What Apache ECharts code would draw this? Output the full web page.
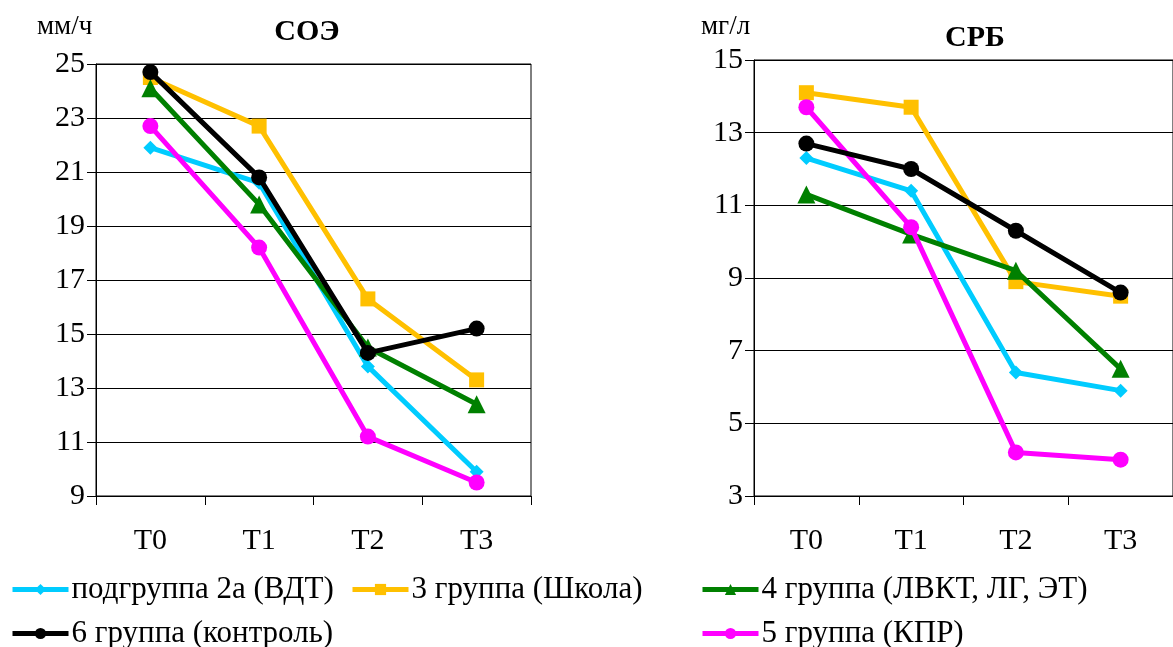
<!DOCTYPE html>
<html>
<head>
<meta charset="utf-8">
<script src="https://cdn.jsdelivr.net/npm/echarts@6/dist/echarts.min.js"></script>
<style>
html,body{margin:0;padding:0;background:#fff;}
#chart{width:1173px;height:647px;}
</style>
</head>
<body>
<div id="chart"></div>
<script>
const categories = ['Т0', 'Т1', 'Т2', 'Т3'];
const seriesNames = ['подгруппа 2а (ВДТ)', '3 группа (Школа)', '4 группа (ЛВКТ, ЛГ, ЭТ)', '5 группа (КПР)', '6 группа (контроль)'];
// СОЭ, мм/ч
const esrSub2a = [21.9, 20.6, 13.8, 9.9];
const esrGroup3 = [24.5, 22.7, 16.3, 13.3];
const esrGroup4 = [24.1, 19.8, 14.5, 12.4];
const esrGroup5 = [22.7, 18.2, 11.2, 9.5];
const esrGroup6 = [24.7, 20.8, 14.3, 15.2];
// СРБ, мг/л
const crpSub2a = [12.3, 11.4, 6.4, 5.9];
const crpGroup3 = [14.1, 13.7, 8.9, 8.5];
const crpGroup4 = [11.3, 10.2, 9.2, 6.5];
const crpGroup5 = [13.7, 10.4, 4.2, 4.0];
const crpGroup6 = [12.7, 12.0, 10.3, 8.6];
const esrTicks = {min: 9, max: 25, interval: 2};
const crpTicks = {min: 3, max: 15, interval: 2};

const colors = ['#00CCFF', '#FFC000', '#008000', '#FF00FF', '#000000'];
const symbols = ['diamond', 'rect', 'triangle', 'circle', 'circle'];
const symbolSizes = [14, 15, 18, 16, 16];
const FONT = 'Liberation Serif';

const esrData = [esrSub2a, esrGroup3, esrGroup4, esrGroup5, esrGroup6];
const crpData = [crpSub2a, crpGroup3, crpGroup4, crpGroup5, crpGroup6];

function mkSeries(dataArr, idx) {
  return dataArr.map((d, i) => ({
    name: seriesNames[i],
    type: 'line',
    xAxisIndex: idx,
    yAxisIndex: idx,
    data: d,
    symbol: symbols[i],
    symbolSize: symbolSizes[i],
    showAllSymbol: true,
    lineStyle: {width: 5, color: colors[i]},
    itemStyle: {color: colors[i]},
    z: 2 + i,
    animation: false
  }));
}

function xAx(idx) {
  return {
    type: 'category', gridIndex: idx, data: categories, boundaryGap: true,
    axisLine: {lineStyle: {color: '#000', width: 1}},
    axisTick: {show: true, length: 9, lineStyle: {color: '#000'}},
    axisLabel: {fontFamily: FONT, fontSize: 30, color: '#000', margin: 30},
    splitLine: {show: false}
  };
}
function yAx(idx, t) {
  return {
    type: 'value', gridIndex: idx, min: t.min, max: t.max, interval: t.interval,
    axisLine: {show: true, lineStyle: {color: '#000', width: 1}},
    axisTick: {show: true, length: 9, lineStyle: {color: '#000'}},
    axisLabel: {fontFamily: FONT, fontSize: 30, color: '#000', margin: 11},
    splitLine: {show: true, lineStyle: {color: '#000', width: 1}}
  };
}

function legendItem(name, left, top) {
  return {
    data: [name], left: left, top: top, orient: 'horizontal',
    itemWidth: 56, itemHeight: 14, itemGap: 0,
    lineStyle: {width: 5},
    textStyle: {fontFamily: FONT, fontSize: 31, color: '#000', padding: [0, 0, 0, -2]},
    padding: 0, selectedMode: false
  };
}

const chart = echarts.init(document.getElementById('chart'), null, {renderer: 'canvas'});
chart.setOption({
  backgroundColor: '#fff',
  animation: false,
  textStyle: {fontFamily: FONT},
  title: [
    {text: 'СОЭ', left: 302, top: 12, textAlign: 'center', textStyle: {fontFamily: FONT, fontSize: 30, fontWeight: 'bold', color: '#000'}},
    {text: 'СРБ', left: 970, top: 18, textAlign: 'center', textStyle: {fontFamily: FONT, fontSize: 30, fontWeight: 'bold', color: '#000'}},
    {text: 'мм/ч', left: 32, top: 8, textStyle: {fontFamily: FONT, fontSize: 27, fontWeight: 'normal', color: '#000'}},
    {text: 'мг/л', left: 696, top: 8, textStyle: {fontFamily: FONT, fontSize: 27, fontWeight: 'normal', color: '#000'}}
  ],
  grid: [
    {left: 96, right: 642, top: 64, bottom: 151, show: true, borderColor: '#000', borderWidth: 1, containLabel: false},
    {left: 754, right: -10, top: 60, bottom: 151, show: true, borderColor: '#000', borderWidth: 1, containLabel: false}
  ],
  xAxis: [xAx(0), xAx(1)],
  yAxis: [yAx(0, esrTicks), yAx(1, crpTicks)],
  legend: [
    legendItem(seriesNames[0], 10, 574),
    legendItem(seriesNames[1], 350, 574),
    legendItem(seriesNames[2], 700, 574),
    legendItem(seriesNames[4], 10, 618),
    legendItem(seriesNames[3], 700, 618)
  ],
  series: [...mkSeries(esrData, 0), ...mkSeries(crpData, 1)]
});
</script>
</body>
</html>
